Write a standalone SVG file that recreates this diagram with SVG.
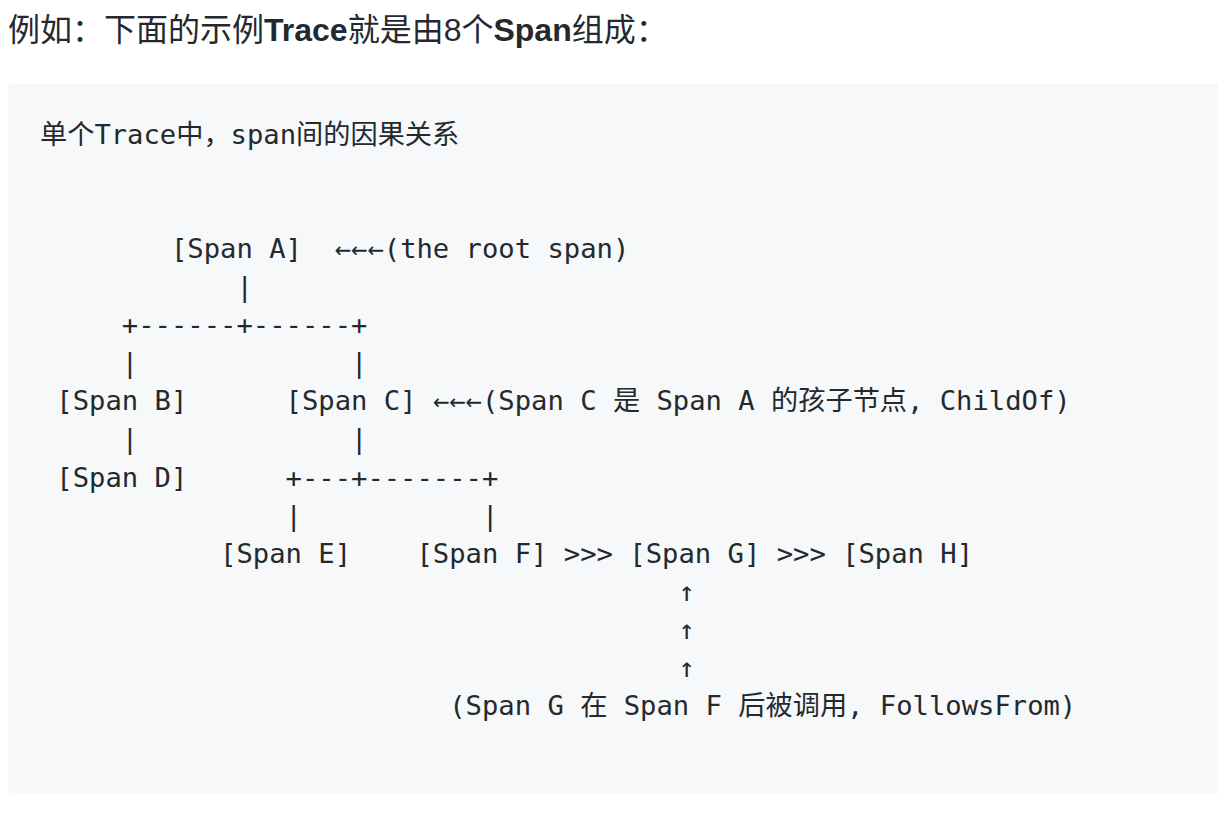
<svg xmlns="http://www.w3.org/2000/svg" width="1218" height="818" viewBox="0 0 1218 818">
<style>
.h{font-family:"Liberation Sans","Noto Sans CJK SC",sans-serif;font-size:32px;fill:#24292e}
.b{font-weight:bold}
.m{font-family:"DejaVu Sans Mono","Noto Sans CJK SC",monospace;font-size:27.2px;fill:#24292e}
</style>
<rect x="0" y="0" width="1218" height="818" fill="#ffffff"/>
<text class="h" x="8" y="41">例如：下面的示例<tspan class="b">Trace</tspan>就是由8个<tspan class="b">Span</tspan>组成：</text>
<rect x="8" y="84" width="1216" height="709" rx="4" fill="#f6f8fa"/>
<text class="m" x="40" y="143.8">单个Trace中，span间的因果关系</text>
<g id="spanA"><text class="m" x="170.96" y="258">[Span A]</text></g>
<g id="spanB"><text class="m" x="56.37" y="410.3">[Span B]</text></g>
<g id="spanC"><text class="m" x="285.55" y="410.3">[Span C]</text></g>
<g id="spanD"><text class="m" x="56.37" y="486.5">[Span D]</text></g>
<g id="spanE"><text class="m" x="220.07" y="562.6">[Span E]</text></g>
<g id="spanF"><text class="m" x="416.51" y="562.6">[Span F]</text></g>
<g id="spanG"><text class="m" x="629.32" y="562.6">[Span G]</text></g>
<g id="spanH"><text class="m" x="842.13" y="562.6">[Span H]</text></g>
<g id="notes">
<text class="m" x="383.77" y="258">(the root span)</text>
<text class="m" x="481.99" y="410.3">(Span C 是 Span A 的孩子节点, ChildOf)</text>
<text class="m" x="449.25" y="715">(Span G 在 Span F 后被调用, FollowsFrom)</text>
</g>
<g id="connectors">
<text class="m" x="334.66" y="258">←←←</text>
<text class="m" x="236.44" y="296.1">|</text>
<text class="m" x="121.85" y="334.2">+------+------+</text>
<text class="m" x="121.85" y="372.2">|</text>
<text class="m" x="351.03" y="372.2">|</text>
<text class="m" x="432.88" y="410.3">←←←</text>
<text class="m" x="121.85" y="448.4">|</text>
<text class="m" x="351.03" y="448.4">|</text>
<text class="m" x="285.55" y="486.5">+---+-------+</text>
<text class="m" x="285.55" y="524.6">|</text>
<text class="m" x="481.99" y="524.6">|</text>
<text class="m" x="563.84" y="562.6">&gt;&gt;&gt;</text>
<text class="m" x="776.65" y="562.6">&gt;&gt;&gt;</text>
<text class="m" x="678.43" y="600.7">↑</text>
<text class="m" x="678.43" y="638.8">↑</text>
<text class="m" x="678.43" y="676.9">↑</text>
</g>
</svg>
